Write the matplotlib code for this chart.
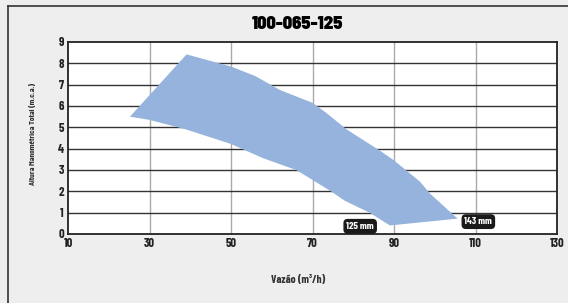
import matplotlib

matplotlib.use("Agg")
import matplotlib.pyplot as plt
from matplotlib.lines import Line2D

FONT = ["Barlow Condensed", "DejaVu Sans"]
plt.rcParams["font.family"] = FONT

title = "100-065-125"
x_label = "Vazão (m³/h)"
y_label = "Altura Manométrica Total (m.c.a.)"
x_ticks = [10, 30, 50, 70, 90, 110, 130]
y_ticks = [0, 1, 2, 3, 4, 5, 6, 7, 8, 9]

# envelope of the impeller range, upper edge then lower edge back
upper_q = [25.2, 39.1, 50, 56, 62, 70, 73.5, 78.4, 86.6, 90, 96.4, 98.8, 105.6]
upper_h = [5.5, 8.42, 7.85, 7.4, 6.75, 6.15, 5.66, 4.9, 3.9, 3.45, 2.45, 1.9, 0.72]
lower_q = [89, 84, 78, 74.3, 68.6, 66, 57.9, 50, 39, 30]
lower_h = [0.4, 1.0, 1.55, 2.03, 2.7, 3.0, 3.55, 4.22, 4.9, 5.35]

labels = ["125 mm", "143 mm"]
label_q = [81.7, 110.7]
label_h = [0.36, 0.58]

W, H = 568, 303
fig = plt.figure(figsize=(W / 100, H / 100), dpi=100)
fig.patch.set_facecolor("#eeeeee")
renderer = fig.canvas.get_renderer()


def fit_width(txt, target_px, horizontal=True):
    # scale font size so the drawn text spans target_px
    bb = txt.get_window_extent(renderer)
    size = bb.width if horizontal else bb.height
    txt.set_fontsize(txt.get_fontsize() * target_px / size)


# outer frame (top and left edges visible)
fig.add_artist(Line2D([8 / W, 1], [1 - 6 / H, 1 - 6 / H], color="#333333", lw=1.2))
fig.add_artist(Line2D([8 / W, 8 / W], [0, 1 - 6 / H], color="#333333", lw=1.2))

ax = fig.add_axes([68 / W, 1 - 234 / H, 489 / W, 192 / H])
ax.set_facecolor("white")
ax.set_xlim(10, 130)
ax.set_ylim(0, 9)

for q in x_ticks[1:-1]:
    ax.axvline(q, color="#aaaaaa", lw=1.0, zorder=1)
for h in y_ticks[1:-1]:
    ax.axhline(h, color="#333333", lw=1.0, zorder=1)

ax.fill(upper_q + lower_q, upper_h + lower_h, color="#95b3dc", lw=0, zorder=2)

box = dict(boxstyle="round,pad=0.22,rounding_size=0.35", fc="#1a1a1a", ec="#1a1a1a")
for txt, q, h in zip(labels, label_q, label_h):
    t = ax.text(q, h, txt, ha="center", va="center", fontsize=7, color="white",
                fontweight="bold", zorder=4)
    fit_width(t, 28)
    t.set_bbox(box)

ax.set_xticks(x_ticks)
ax.set_yticks(y_ticks)
ax.tick_params(length=0, labelsize=9, pad=3)
for t in ax.get_xticklabels() + ax.get_yticklabels():
    t.set_fontweight("bold")
    t.set_color("#222222")
for s in ax.spines.values():
    s.set_color("#222222")
    s.set_linewidth(1.3)
    s.set_zorder(3)

t = fig.text(298 / W, 1 - 24 / H, title, ha="center", va="center",
             fontsize=14, fontweight=900, color="black",
             family=["Barlow Semi Condensed", "DejaVu Sans"])
fit_width(t, 92)
t = fig.text(298 / W, 1 - 280 / H, x_label, ha="center", va="center",
             fontsize=7, fontweight="bold", color="#333333")
fit_width(t, 54)
t = fig.text(33 / W, 1 - 134 / H, y_label, ha="center", va="center",
             fontsize=7, fontweight="bold", color="#333333", rotation=90)
fit_width(t, 102, horizontal=False)

fig.savefig("out.png", dpi=100, facecolor=fig.get_facecolor())
